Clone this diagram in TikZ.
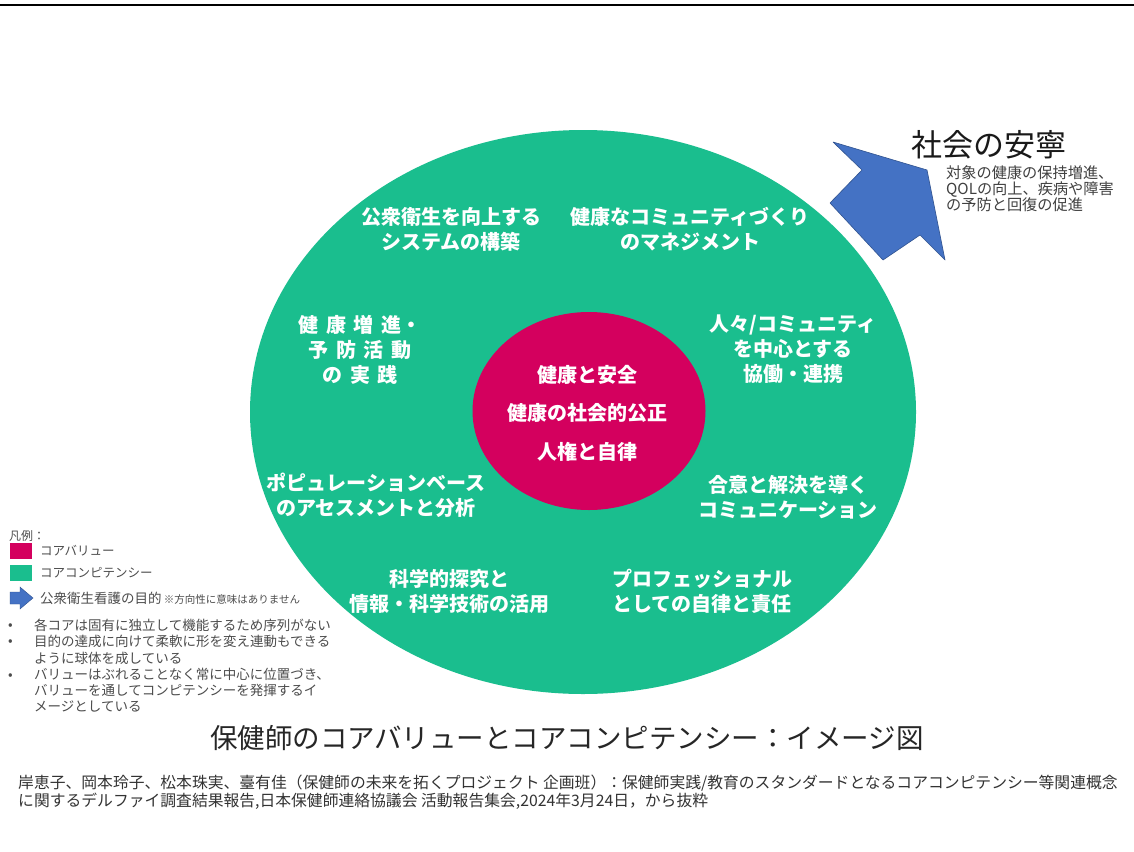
\documentclass[tikz,border=0pt]{standalone}
\usepackage{fontspec}
\setmainfont{Noto Sans CJK JP}
\usetikzlibrary{shapes.geometric}
\definecolor{cgreen}{RGB}{26,190,142}
\definecolor{cmag}{RGB}{212,0,94}
\definecolor{cblue}{RGB}{68,114,196}
\definecolor{cbluedark}{RGB}{47,82,143}
\newcommand\gsp{\hspace{0.38em}}
\begin{document}
\begin{tikzpicture}[x=1pt,y=-1pt,
  gtext/.style={text=white,align=center,font=\fontsize{20}{25}\selectfont\bfseries,inner sep=0pt},
  mtext/.style={text=white,align=center,font=\fontsize{20}{24}\selectfont\bfseries,inner sep=0pt},
  leg/.style={text=black!70,font=\fontsize{13.5}{16.2}\selectfont,inner sep=0pt},
  foot/.style={text=black!80,font=\fontsize{15.8}{18}\selectfont,inner sep=0pt,anchor=west}]
\useasboundingbox[fill=white] (0,0) rectangle (1134,851);
\draw[line width=2pt,black] (0,5) coordinate (tl) -- (1134,5) coordinate (tr);

% ellipses
\node[ellipse,fill=cgreen,minimum width=666pt,minimum height=564pt,inner sep=0pt] (green) at (583,412) {};
\node[ellipse,fill=cmag,minimum width=233pt,minimum height=198pt,inner sep=0pt] (mag) at (589,411) {};

% competencies
\node[gtext] (c1) at (451,229.5) {公衆衛生を向上する\\システムの構築};
\node[gtext] (c2) at (690,229.5) {健康なコミュニティづくり\\のマネジメント};
\node[gtext] (c3) at (360,350) {健\gsp 康\gsp 増\gsp 進・\\予\gsp 防\gsp 活\gsp 動\\の\gsp 実\gsp 践};
\node[gtext] (c4) at (793,349) {人々/コミュニティ\\を中心とする\\協働・連携};
\node[gtext] (c5) at (376,495) {ポピュレーションベース\\のアセスメントと分析};
\node[gtext] (c6) at (788,497.5) {合意と解決を導く\\コミュニケーション};
\node[gtext] (c7) at (449,591) {科学的探究と\\情報・科学技術の活用};
\node[gtext] (c8) at (702,591) {プロフェッショナル\\としての自律と責任};

% values
\node[mtext] (v1) at (587,375) {健康と安全};
\node[mtext] (v2) at (587,413) {健康の社会的公正};
\node[mtext] (v3) at (587,452) {人権と自律};

% blue arrow
\draw[fill=cblue,draw=cbluedark,line width=0.6pt,line join=round]
  (833,142) coordinate (a1) -- (927,170) -- (945,260) -- (920,235) -- (883,260) -- (830,203) -- (862,170) -- cycle;

% society
\node[anchor=west,inner sep=0pt,font=\fontsize{31}{34}\selectfont,text=black!90] (soc) at (911,145) {社会の安寧};
\node[anchor=north west,inner sep=0pt,align=left,font=\fontsize{15.2}{16.2}\selectfont,text=black!75] (socsub) at (946,165) {対象の健康の保持増進、\\QOLの向上、疾病や障害\\の予防と回復の促進};

% legend
\node[leg,anchor=west,font=\fontsize{12}{14}\selectfont] (lt) at (9,536) {凡例：};
\node[fill=cmag,minimum width=22pt,minimum height=16pt,inner sep=0pt] (lm) at (21,551) {};
\node[leg,anchor=west,font=\fontsize{12.5}{14}\selectfont] (lmt) at (40,551) {コアバリュー};
\node[fill=cgreen,minimum width=22pt,minimum height=16pt,inner sep=0pt] (lg) at (21,573) {};
\node[leg,anchor=west,font=\fontsize{12.5}{14}\selectfont] (lgt) at (40,573) {コアコンピテンシー};
\draw[fill=cblue,draw=cbluedark,line width=0.4pt] (10,592) coordinate (la) -- (20,592) -- (20,587) -- (33,598) -- (20,609) -- (20,604) -- (10,604) -- cycle;
\node[leg,anchor=west] (lbt) at (40,598) {公衆衛生看護の目的\,{\fontsize{10.5}{11}\selectfont ※方向性に意味はありません}};
\node[leg,anchor=west] (b1) at (8,627) {•};
\node[leg,anchor=west] (b2) at (8,643) {•};
\node[leg,anchor=west] (b3) at (8,677) {•};
\node[leg,anchor=north west,align=left] (btext) at (34,619) {各コアは固有に独立して機能するため序列がない\\目的の達成に向けて柔軟に形を変え連動もできる\\ように球体を成している\\バリューはぶれることなく常に中心に位置づき、\\バリューを通してコンピテンシーを発揮するイ\\メージとしている};

% title
\node[inner sep=0pt,font=\fontsize{27.5}{30}\selectfont,text=black!85] (title) at (567,738) {保健師のコアバリューとコアコンピテンシー：イメージ図};

% footer
\node[foot] (f1) at (18,783) {岸恵子、岡本玲子、松本珠実、臺有佳（保健師の未来を拓くプロジェクト 企画班）：保健師実践/教育のスタンダードとなるコアコンピテンシー等関連概念};
\node[foot] (f2) at (18,801) {に関するデルファイ調査結果報告,日本保健師連絡協議会 活動報告集会,2024年3月24日，から抜粋};
\end{tikzpicture}
\end{document}
